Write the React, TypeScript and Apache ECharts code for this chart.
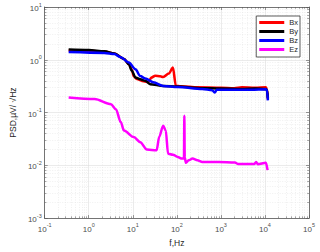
import React, { useEffect, useRef } from "react";
import * as echarts from "echarts";

const seriesNames = ["Bx", "By", "Bz", "Ez"];
const seriesColors = ["#ff0000", "#000000", "#0000ff", "#ff00ff"];

// [frequency Hz, PSD µV/√Hz]
const bxData: [number, number][] = [
  [0.35, 1.5], [1, 1.48], [2.27, 1.43], [3.8, 1.32], [6.3, 1.04], [8.15, 0.83],
  [9.5, 0.65], [10.5, 0.49], [12.3, 0.43], [17.5, 0.39], [22.7, 0.38], [26.4, 0.46],
  [32.4, 0.5], [41.9, 0.485], [49, 0.47], [66, 0.55], [81.5, 0.71], [95, 0.32],
  [123, 0.315], [300, 0.3], [1000, 0.295], [2000, 0.29], [3000, 0.3], [6000, 0.295],
  [10500, 0.3], [11100, 0.28], [11660, 0.18],
];
const byData: [number, number][] = [
  [0.35, 1.56], [1, 1.53], [2.27, 1.45], [3.8, 1.32], [6.3, 1.04], [8.15, 0.82],
  [9.5, 0.62], [11.5, 0.46], [14.8, 0.426], [19.2, 0.4], [24.7, 0.345], [49, 0.32],
  [105, 0.31], [378, 0.29], [1000, 0.285], [3000, 0.28], [6000, 0.285], [10500, 0.28],
  [11070, 0.27], [11660, 0.19],
];
const bzData: [number, number][] = [
  [0.35, 1.4], [2.27, 1.35], [3.8, 1.28], [5.3, 1.12], [8.15, 0.89], [11.5, 0.66],
  [14.8, 0.49], [19.2, 0.44], [29.3, 0.375], [49, 0.32], [105, 0.305], [378, 0.28],
  [631, 0.265], [735, 0.24], [800, 0.27], [1754, 0.27], [5000, 0.27], [10500, 0.275],
  [11100, 0.27], [11660, 0.17],
];
const ezData: [number, number][] = [
  [0.35, 0.193], [1.36, 0.18], [3.19, 0.144], [4.13, 0.116], [5.33, 0.066],
  [6.31, 0.0455], [10.5, 0.0343], [14.8, 0.0275], [20.8, 0.02], [34.7, 0.0192],
  [39.8, 0.0347], [48.9, 0.0565], [56.1, 0.0455], [63.1, 0.0166], [81.5, 0.0159],
  [105, 0.0144], [131, 0.0134], [145, 0.0134], [148, 0.087], [151, 0.014],
  [161, 0.0112], [185, 0.01245], [227, 0.0134], [293, 0.01245], [378, 0.0116],
  [889, 0.0116], [2080, 0.0113], [2470, 0.0106], [5780, 0.0106], [6310, 0.0116],
  [6880, 0.0105], [10500, 0.0112], [11480, 0.0081],
];
const allData = [bxData, byData, bzData, ezData];

const xMin = 0.1;
const xMax = 100000;
const yMin = 0.001;
const yMax = 10;

const tickColor = "#4d4d4d";
const fontFamily = "Liberation Sans, Arial, sans-serif";

const powLabel = (v: number) => {
  const e = Math.round(Math.log10(v));
  return `{b|10}{s|${e}}`;
};

const labelRich = {
  b: { fontSize: 8, color: tickColor, fontFamily, lineHeight: 11, verticalAlign: "bottom" },
  s: { fontSize: 5.5, color: tickColor, fontFamily, lineHeight: 11, verticalAlign: "top" },
};

export default function App() {
  const ref = useRef<HTMLDivElement>(null);
  useEffect(() => {
    if (!ref.current) return;
    const chart = echarts.init(ref.current, undefined, { renderer: "svg" });
    const axisLine = { show: true, lineStyle: { color: "#555", width: 0.8 } };
    const majorSplit = { show: true, lineStyle: { color: "#dedede", width: 0.6 } };
    const minorSplit = { show: true, lineStyle: { color: "#e6e6e6", width: 0.6, type: [1, 1.5] } };
    const minorTick = { show: true, splitNumber: 9, length: 1.8, lineStyle: { color: "#555", width: 0.5 } };
    const axisTick = { show: true, inside: true, length: 3, lineStyle: { color: "#555", width: 0.6 } };
    chart.setOption({
      animation: false,
      grid: { left: 39, top: 7, width: 270, height: 213, show: false },
      xAxis: [
        {
          type: "log", min: xMin, max: xMax, logBase: 10,
          name: "f,Hz", nameLocation: "middle", nameGap: 19,
          nameTextStyle: { fontSize: 8.5, color: "#262626", fontFamily },
          axisLine, axisTick, minorTick, splitLine: majorSplit, minorSplitLine: minorSplit,
          axisLabel: { formatter: powLabel, rich: labelRich, margin: 4 },
        },
        {
          type: "log", min: xMin, max: xMax, logBase: 10, position: "top",
          axisLine, axisTick, minorTick, splitLine: { show: false }, axisLabel: { show: false },
        },
      ],
      yAxis: [
        {
          type: "log", min: yMin, max: yMax, logBase: 10,
          name: "PSD,µV/ √Hz", nameLocation: "middle", nameGap: 24, nameRotate: 90,
          nameTextStyle: { fontSize: 8.5, color: "#262626", fontFamily },
          axisLine, axisTick, minorTick, splitLine: majorSplit, minorSplitLine: minorSplit,
          axisLabel: { formatter: powLabel, rich: labelRich, margin: 3 },
        },
        {
          type: "log", min: yMin, max: yMax, logBase: 10, position: "right",
          axisLine, axisTick, minorTick, splitLine: { show: false }, axisLabel: { show: false },
        },
      ],
      legend: {
        orient: "vertical", right: 20, top: 16,
        padding: [2, 2, 3, 3], itemGap: 0, itemWidth: 25, itemHeight: 3,
        icon: "rect",
        borderColor: "#333", borderWidth: 0.8, backgroundColor: "#fff",
        textStyle: { fontSize: 7.5, color: "#262626", fontFamily, lineHeight: 9 },
        data: seriesNames,
      },
      series: allData.map((d, i) => ({
        name: seriesNames[i], type: "line", data: d, symbol: "none",
        xAxisIndex: 0, yAxisIndex: 0,
        smooth: 0.3, smoothMonotone: "x",
        lineStyle: { color: seriesColors[i], width: 2.5 },
        itemStyle: { color: seriesColors[i] },
      })),
    });
    return () => chart.dispose();
  }, []);
  return <div ref={ref} style={{ position: "fixed", left: 0, top: 0, width: 320, height: 252, background: "#fff" }} />;
}
